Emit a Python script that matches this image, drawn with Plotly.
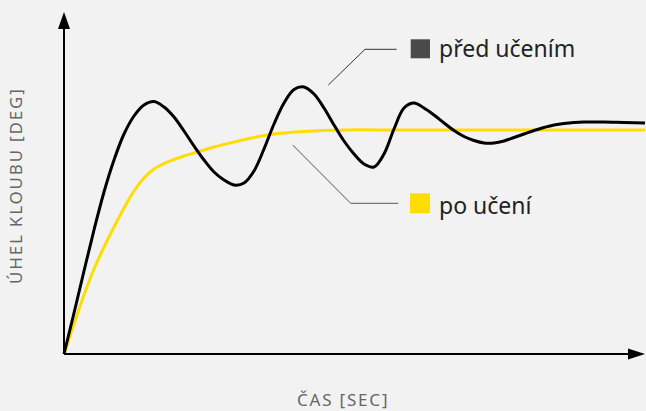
import plotly.graph_objects as go

# time (s) and joint angle (arbitrary units)
t_before = [0, 0.1, 0.2, 0.3, 0.4, 0.5, 0.6, 0.7, 0.8, 0.9, 1.0, 1.1, 1.2, 1.3, 1.4, 1.5, 1.6,
            1.7, 1.8, 1.9, 2.0, 2.1, 2.2, 2.3, 2.4, 2.5, 2.6, 2.7, 2.8, 2.9, 3.0, 3.1, 3.2,
            3.3, 3.4, 3.5, 3.6, 3.7, 3.8, 3.9, 4.0, 4.1, 4.2, 4.3, 4.4, 4.5, 4.6, 4.7, 4.8,
            4.9, 5.0, 5.2, 5.4, 5.6, 5.81]
y_before = [0, 0.41, 0.83, 1.24, 1.62, 1.94, 2.20, 2.38, 2.49, 2.525, 2.47, 2.37, 2.23, 2.08,
            1.94, 1.82, 1.74, 1.69, 1.71, 1.83, 2.05, 2.30, 2.51, 2.645, 2.67, 2.60, 2.46, 2.29,
            2.13, 2.00, 1.90, 1.87, 2.00, 2.25, 2.46, 2.51, 2.46, 2.39, 2.31, 2.235, 2.175,
            2.135, 2.11, 2.11, 2.13, 2.165, 2.20, 2.235, 2.265, 2.29, 2.305, 2.32, 2.32, 2.315, 2.31]

t_after = [0, 0.1, 0.2, 0.3, 0.4, 0.5, 0.6, 0.7, 0.8, 0.9, 1.0, 1.1, 1.2, 1.3, 1.5, 1.7, 1.9,
           2.1, 2.4, 2.8, 3.4, 4.5, 5.81]
y_after = [0, 0.30, 0.59, 0.85, 1.07, 1.27, 1.46, 1.63, 1.76, 1.85, 1.905, 1.945, 1.98, 2.01,
           2.07, 2.12, 2.165, 2.20, 2.225, 2.24, 2.24, 2.24, 2.24]

name_before = "před učením"
name_after = "po učení"
x_title = "ČAS [SEC]"
y_title = "ÚHEL KLOUBU [DEG]"

BG = "#f2f2f2"
BLACK = "#000000"
YELLOW = "#ffdd00"

fig = go.Figure()
fig.add_trace(go.Scatter(x=t_after, y=y_after, mode="lines",
                         line=dict(color=YELLOW, width=3, shape="spline", smoothing=1),
                         name=name_after, hoverinfo="skip"))
fig.add_trace(go.Scatter(x=t_before, y=y_before, mode="lines",
                         line=dict(color=BLACK, width=3, shape="spline", smoothing=1),
                         name=name_before, hoverinfo="skip"))

shapes = [
    # axes
    dict(type="line", x0=0, y0=0, x1=0, y1=3.3, line=dict(color=BLACK, width=2)),
    dict(type="line", x0=0, y0=0, x1=5.7, y1=0, line=dict(color=BLACK, width=2)),
    dict(type="path", path="M -0.06 3.25 L 0 3.42 L 0.06 3.25 Z", fillcolor=BLACK, line=dict(width=0)),
    dict(type="path", path="M 5.64 -0.055 L 5.81 0 L 5.64 0.055 Z", fillcolor=BLACK, line=dict(width=0)),
    # leader lines
    dict(type="path", path="M 2.643 2.69 L 3.01 3.047 L 3.327 3.047", line=dict(color="#333333", width=1)),
    dict(type="path", path="M 2.287 2.09 L 2.867 1.507 L 3.343 1.507", line=dict(color="#555555", width=1)),
    # legend squares
    dict(type="rect", x0=3.467, x1=3.66, y0=2.957, y1=3.147, fillcolor="#4a4a4a", line=dict(width=0)),
    dict(type="rect", x0=3.46, x1=3.66, y0=1.407, y1=1.607, fillcolor=YELLOW, line=dict(width=0)),
]

font_main = "Noto Sans"
annotations = [
    dict(x=3.73, y=3.06, text=name_before, showarrow=False, xanchor="left", yanchor="middle",
         font=dict(family=font_main, size=23, color="#222222")),
    dict(x=3.73, y=1.49, text=name_after, showarrow=False, xanchor="left", yanchor="middle",
         font=dict(family=font_main, size=23, color="#222222")),
    dict(xref="paper", yref="paper", x=0.488, y=-0.0989, borderpad=0,
         text='<span style="letter-spacing:1.8px">' + x_title + '</span>',
         showarrow=False, xanchor="center", yanchor="middle",
         font=dict(family=font_main, size=17, color="#666666")),
    dict(xref="paper", yref="paper", x=-0.0642, y=0.4918,
         text='<span style="letter-spacing:1.8px">' + y_title + '</span>',
         showarrow=False, xanchor="center", yanchor="middle", textangle=-90,
         font=dict(family=font_main, size=17, color="#666666")),
]

fig.update_layout(
    width=646, height=411,
    margin=dict(l=54, r=0, t=0, b=47),
    paper_bgcolor=BG, plot_bgcolor=BG,
    showlegend=False,
    xaxis=dict(range=[-0.1, 5.82], visible=False, fixedrange=True),
    yaxis=dict(range=[-0.1, 3.54], visible=False, fixedrange=True),
    shapes=shapes, annotations=annotations,
)

fig.write_html("out.html", config={"displayModeBar": False},
               post_script="document.body.style.margin='0';document.body.style.background='#f2f2f2';")
